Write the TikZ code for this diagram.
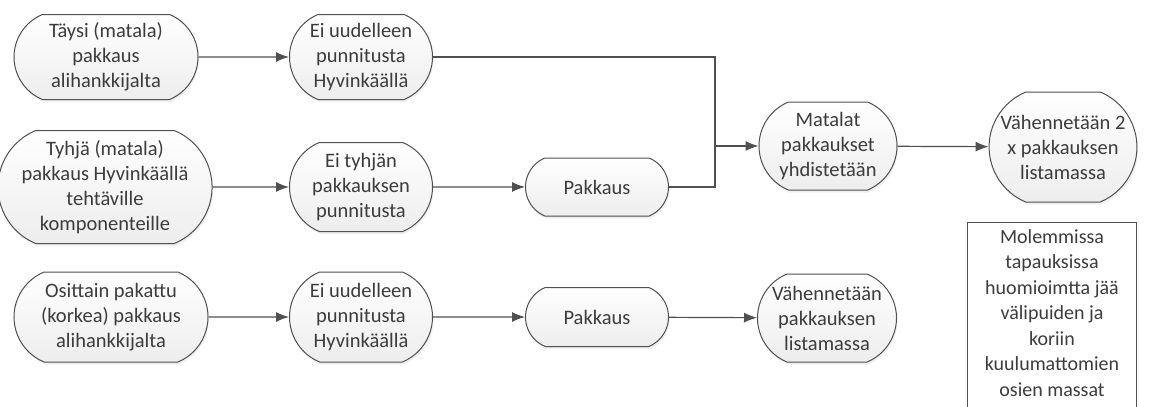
\documentclass[tikz,border=0pt]{standalone}
\usepackage{fontspec}
\setmainfont{Carlito}
\usetikzlibrary{arrows.meta,shapes.misc,shadows}
\definecolor{linegray}{HTML}{505050}
\definecolor{textgray}{HTML}{3C3C3C}
\tikzset{
  stage/.style={rounded rectangle, rounded rectangle arc length=135, draw=linegray, line width=1pt,
    top color=white, bottom color=gray!14, align=center, text=textgray, inner sep=2pt,
    font=\fontsize{20.5}{25}\selectfont,
    drop shadow={opacity=0.12, shadow xshift=1pt, shadow yshift=-2.5pt}},
  notebox/.style={rectangle, align=center, text=textgray,
    font=\fontsize{20}{25.5}\selectfont, minimum width=169pt, inner ysep=7pt},
  arr/.style={-{Latex[length=13pt,width=10pt]}, draw=linegray, line width=1.2pt},
  link/.style={draw=linegray, line width=1.2pt}
}
\begin{document}
\begin{tikzpicture}[x=1pt,y=-1pt]
\clip (0,0) rectangle (1149,407);
\fill[white] (0,0) rectangle (1149,407);

\node[stage, minimum width=188pt, minimum height=85pt] (taysi) at (106,57) {Täysi (matala)\\pakkaus\\alihankkijalta};
\node[stage, minimum width=147pt, minimum height=85pt] (punn1) at (361,57) {Ei uudelleen\\punnitusta\\Hyvinkäällä};

\node[stage, minimum width=186pt, minimum height=113pt] (tyhja) at (105,187) {Tyhjä (matala)\\pakkaus Hyvinkäällä\\tehtäville\\komponenteille};
\node[stage, minimum width=147pt, minimum height=89pt] (punn2) at (361,187) {Ei tyhjän\\pakkauksen\\punnitusta};
\node[stage, minimum width=147pt, minimum height=58pt] (pakk1) at (597,187) {Pakkaus};

\node[stage, minimum width=142pt, minimum height=88pt] (matalat) at (828,146) {Matalat\\pakkaukset\\yhdistetään};
\node[stage, minimum width=136pt, minimum height=110pt] (vah2) at (1063,147) {Vähennetään 2\\x pakkauksen\\listamassa};

\node[stage, minimum width=198pt, minimum height=90pt] (osittain) at (111,317) {Osittain pakattu\\(korkea) pakkaus\\alihankkijalta};
\node[stage, minimum width=147pt, minimum height=90pt] (punn3) at (361,317) {Ei uudelleen\\punnitusta\\Hyvinkäällä};
\node[stage, minimum width=147pt, minimum height=59pt] (pakk2) at (597,317) {Pakkaus};
\node[stage, minimum width=137pt, minimum height=88pt] (vah1) at (827,318) {Vähennetään\\pakkauksen\\listamassa};

\node[notebox, anchor=north] (huom) at (1052,222) {Molemmissa\\tapauksissa\\huomioimtta jää\\välipuiden ja\\koriin\\kuulumattomien\\osien massat};
\draw[linegray, line width=1pt] (huom.north west) rectangle (huom.east |- 0,415);

\coordinate (yhd) at (715,146);

\draw[arr] (taysi) -- (punn1);
\draw[link] (punn1.east) -| (yhd);
\draw[arr] (tyhja) -- (punn2);
\draw[arr] (punn2) -- (pakk1);
\draw[link] (pakk1.east) -| (yhd);
\draw[arr] (yhd) -- (matalat);
\draw[arr] (matalat) -- (vah2);
\draw[arr] (osittain) -- (punn3);
\draw[arr] (punn3) -- (pakk2);
\draw[arr] (pakk2) -- (vah1);
\end{tikzpicture}
\end{document}
